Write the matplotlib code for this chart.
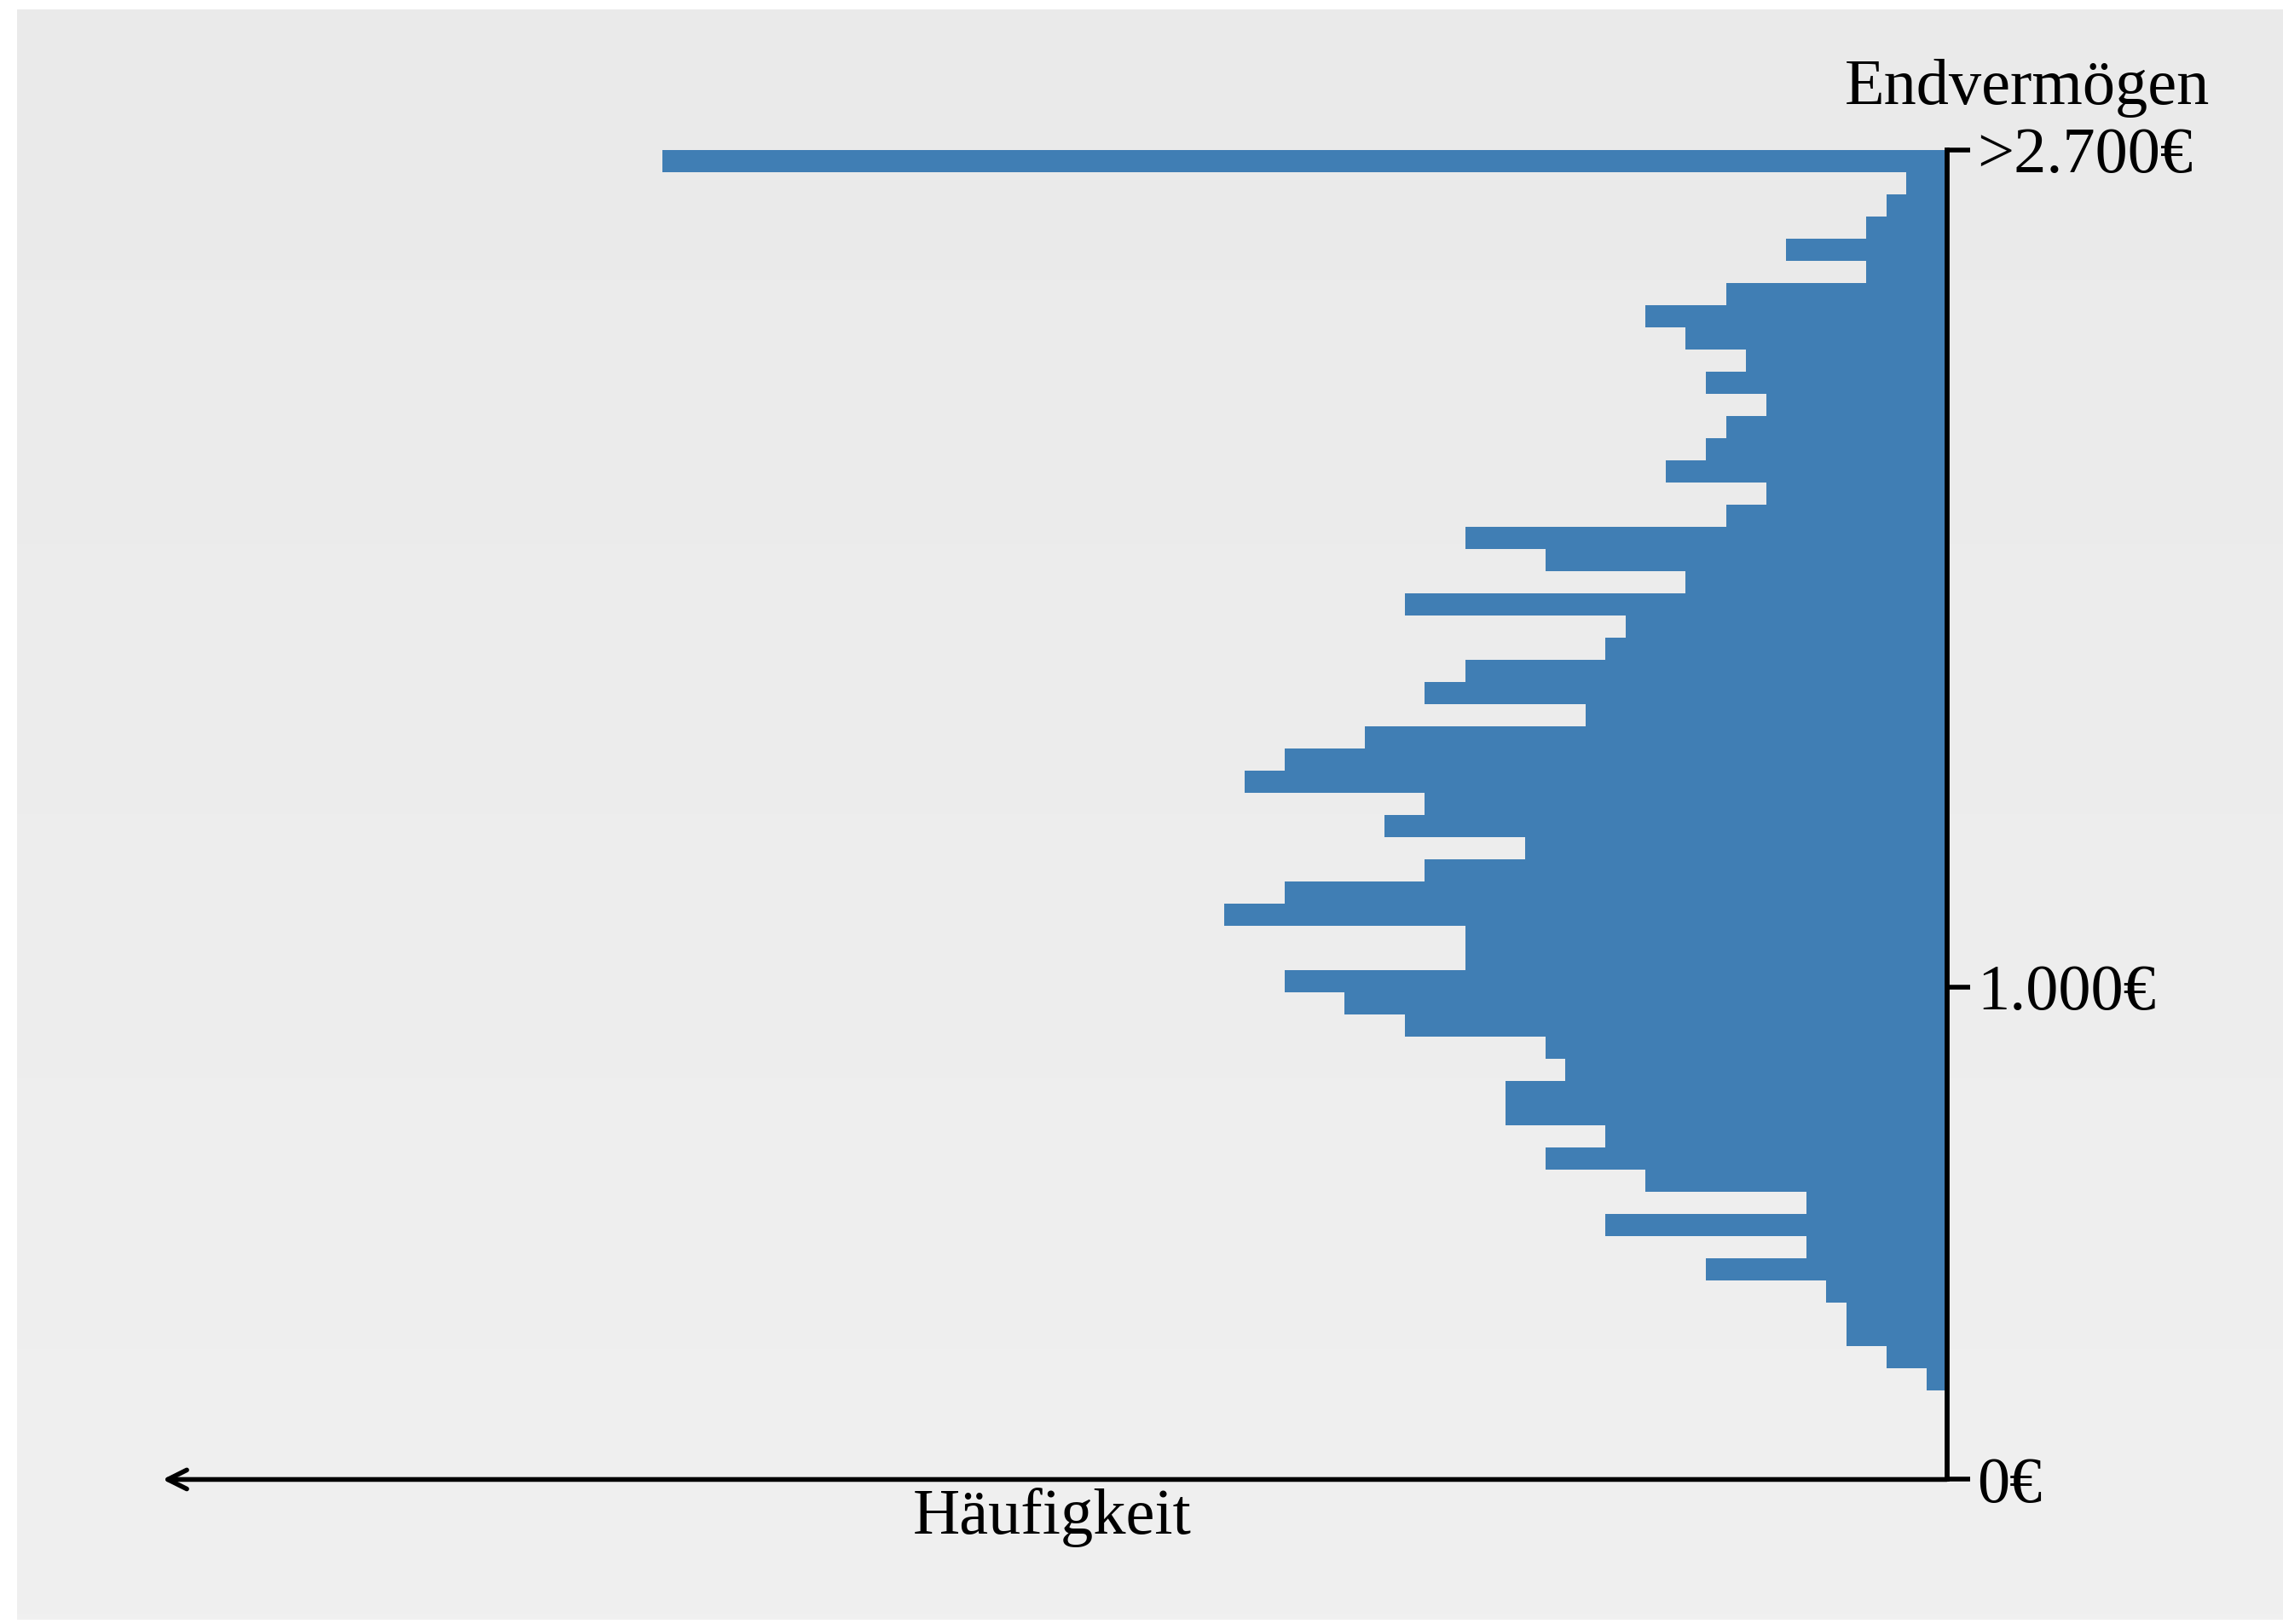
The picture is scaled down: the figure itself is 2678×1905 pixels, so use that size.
import numpy as np
import matplotlib
matplotlib.use("Agg")
import matplotlib.pyplot as plt

plt.rcParams['font.family'] = ['Liberation Serif', 'DejaVu Serif']

# histogram of final wealth (1000 runs), bins of 45 EUR, last bin = overflow >2700
bin_width = 45
bin_start = np.arange(180, 2700, bin_width)
counts = [1, 3, 5, 5, 6, 12, 7, 17, 7, 15,
          20, 17, 22, 22, 19, 20, 27, 30, 33, 24,
          24, 36, 33, 26, 21, 28, 26, 35, 33, 29,
          18, 26, 24, 17, 16, 27, 13, 20, 24, 11,
          9, 14, 12, 11, 9, 12, 10, 13, 15, 11,
          4, 8, 4, 3, 2, 64]
tick_values = [0, 1000, 2700]
tick_labels = ['0€', '1.000€', '>2.700€']

bar_color = '#407EB4'
fs = 27.5

fig = plt.figure(figsize=(2678 / 200, 1905 / 200), dpi=200)
fig.patch.set_facecolor('white')

# grey gradient panel behind the chart
bg = fig.add_axes([0.0075, 0.0026, 0.9925, 0.9916], zorder=0)
grad = np.linspace(234, 240, 256).reshape(-1, 1) / 255.0
bg.imshow(np.repeat(grad, 3, axis=1).reshape(256, 1, 3), aspect='auto',
          extent=[0, 1, 0, 1])
bg.set_axis_off()

ax = fig.add_axes([0.0712, 0.0890, 0.7815, 0.8187], zorder=1)
ax.patch.set_alpha(0)
ax.barh(bin_start, counts, height=bin_width, align='edge',
        color=bar_color, linewidth=0)
ax.set_xlim(88.9, 0)
ax.set_ylim(0, 2700)

for s in ['left', 'top', 'bottom']:
    ax.spines[s].set_visible(False)
ax.spines['right'].set_linewidth(2.1)
ax.spines['right'].set_zorder(3)

ax.yaxis.tick_right()
ax.set_yticks(tick_values)
ax.set_yticklabels(tick_labels)
ax.tick_params(axis='y', direction='out', length=9.7, width=2.0, pad=3,
               labelsize=fs)
ax.set_xticks([])

# frequency axis with open arrow pointing left
ax.annotate('', xy=(88.9, 0), xytext=(0, 0), xycoords='data',
            arrowprops=dict(arrowstyle='->', lw=2.0, color='black',
                            mutation_scale=20, shrinkA=0, shrinkB=0),
            annotation_clip=False)

fig.text(0.888, 0.936, 'Endvermögen', fontsize=fs, ha='center',
         va='baseline')
fig.text(0.461, 0.0556, 'Häufigkeit', fontsize=fs, ha='center',
         va='baseline')

fig.savefig('out.png', dpi=200)
